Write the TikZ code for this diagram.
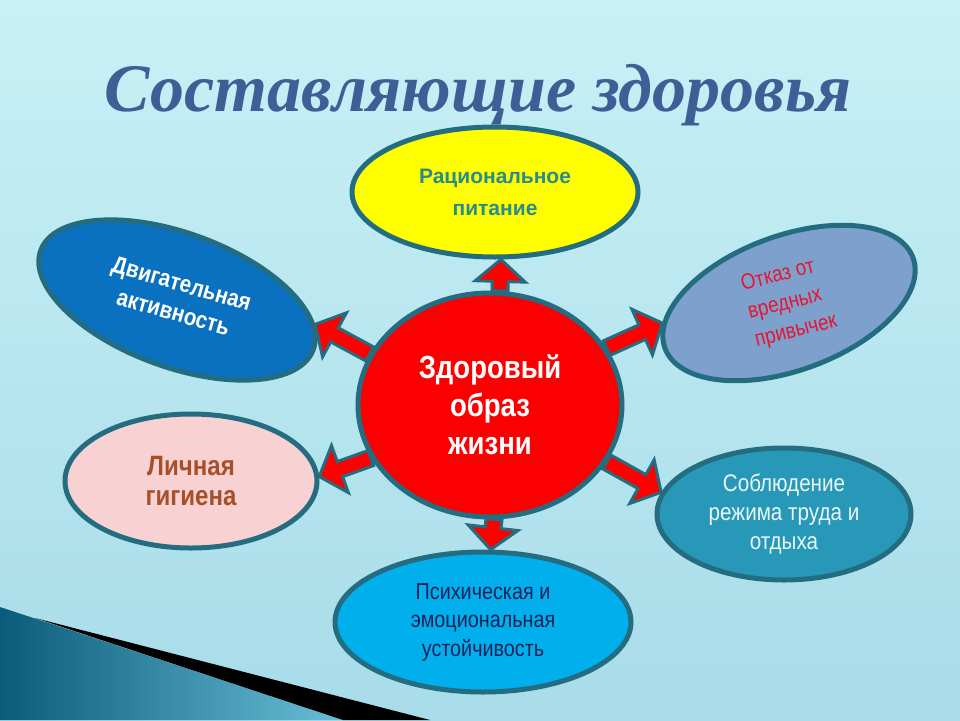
\documentclass[tikz,border=0pt]{standalone}
\usepackage{fontspec}
\setmainfont{Liberation Sans}
\newfontfamily\nsans[FakeStretch=0.86]{Liberation Sans}
\newfontfamily\titlefont{Liberation Serif}
\usetikzlibrary{shapes.geometric,calc}

\definecolor{bord}{RGB}{36,108,128}
\definecolor{bgtop}{RGB}{200,240,246}
\definecolor{bgbot}{RGB}{168,220,233}
\definecolor{ttl}{RGB}{62,94,150}
\definecolor{cred}{RGB}{250,0,0}
\definecolor{cyel}{RGB}{255,255,0}
\definecolor{tyel}{RGB}{40,140,140}
\definecolor{cdblue}{RGB}{10,112,192}
\definecolor{clav}{RGB}{125,160,205}
\definecolor{tlav}{RGB}{232,20,50}
\definecolor{cpink}{RGB}{248,210,210}
\definecolor{tpink}{RGB}{165,80,40}
\definecolor{cteal}{RGB}{40,152,185}
\definecolor{tteal}{RGB}{232,246,250}
\definecolor{csky}{RGB}{0,175,235}
\definecolor{tsky}{RGB}{25,35,90}
\definecolor{tridark}{RGB}{10,92,122}
\definecolor{trilight}{RGB}{105,190,215}

\pgfdeclarelayer{bglayer}
\pgfdeclarelayer{arrlayer}
\pgfsetlayers{bglayer,arrlayer,main}

\tikzset{
  bub/.style={ellipse, draw=bord, line width=5pt, inner sep=0pt, align=center},
  blockarr/.style={fill=red, draw=bord, line width=3pt, line join=miter},
}

% block arrow from #1 to #2
\newcommand\bArrow[2]{%
  \coordinate (ba-s) at (#1);
  \coordinate (ba-t) at (#2);
  \coordinate (ba-h) at ($(ba-t)!22pt!(ba-s)$);
  \begin{pgfonlayer}{arrlayer}
  \draw[blockarr] ($(ba-s)!8pt!90:(ba-t)$) -- ($(ba-h)!8pt!-90:(ba-s)$)
     -- ($(ba-h)!25pt!-90:(ba-s)$) -- (ba-t) -- ($(ba-h)!25pt!90:(ba-s)$)
     -- ($(ba-h)!8pt!90:(ba-s)$) -- ($(ba-s)!8pt!-90:(ba-t)$) -- cycle;
  \end{pgfonlayer}}

\begin{document}
\begin{tikzpicture}[x=1pt,y=-1pt]
\useasboundingbox (0,0) rectangle (960,720);
\begin{pgfonlayer}{bglayer}
  \shade[top color=bgtop, bottom color=bgbot] (0,0) rectangle (960,720);
  \shade[left color=tridark, right color=trilight] (0,607) -- (343,720) -- (0,720) -- cycle;
  \fill[black] (35,618) -- (430,720) -- (343,720) -- cycle;
\end{pgfonlayer}

\node[font=\titlefont\bfseries\itshape\fontsize{68}{68}\selectfont, text=ttl, anchor=base] (title) at (478,111) {Составляющие здоровья};

\node[bub, fill=cred, minimum width=264pt, minimum height=224pt, text=white,
      font=\nsans\bfseries\fontsize{32}{38}\selectfont] (c) at (490,405) {Здоровый\\образ\\жизни};

\node[bub, fill=cyel, minimum width=286pt, minimum height=130pt, text=tyel,
      font=\bfseries\fontsize{21}{32}\selectfont] (y) at (495,192) {Рациональное\\питание};

\node[bub, fill=cdblue, minimum width=290pt, minimum height=134pt, rotate=-20, text=white,
      font=\nsans\bfseries\fontsize{24}{30}\selectfont] (dv) at (177,300)
      {\rotatebox{4}{\begin{tabular}{@{}c@{}}Двигательная\\активность\end{tabular}}};

\node[bub, fill=clav, minimum width=264pt, minimum height=130pt, rotate=20, text=tlav,
      font=\nsans\fontsize{22}{29}\selectfont] (or) at (789,303)
      {\rotatebox{-6}{\begin{tabular}{@{}l@{}}Отказ от\\вредных\\привычек\end{tabular}}};

\node[bub, fill=cpink, minimum width=252pt, minimum height=134pt, text=tpink,
      font=\nsans\bfseries\fontsize{28}{30}\selectfont] (p) at (191,481) {Личная\\гигиена};

\node[bub, fill=cteal, minimum width=254pt, minimum height=132pt, text=tteal,
      font=\nsans\fontsize{24}{29}\selectfont] (s) at (784,514) {Соблюдение\\режима труда и\\отдыха};

\node[bub, fill=csky, minimum width=296pt, minimum height=140pt, text=tsky,
      font=\nsans\fontsize{23}{28.5}\selectfont] (b) at (483,622) {Психическая и\\эмоциональная\\устойчивость};

\bArrow{c.85}{y.-85}
\bArrow{c.-88}{b.84}
\bArrow{c.157}{dv.10}
\bArrow{c.26}{or.169}
\bArrow{c.204}{p.2}
\bArrow{c.334}{s.170}
\end{tikzpicture}
\end{document}
